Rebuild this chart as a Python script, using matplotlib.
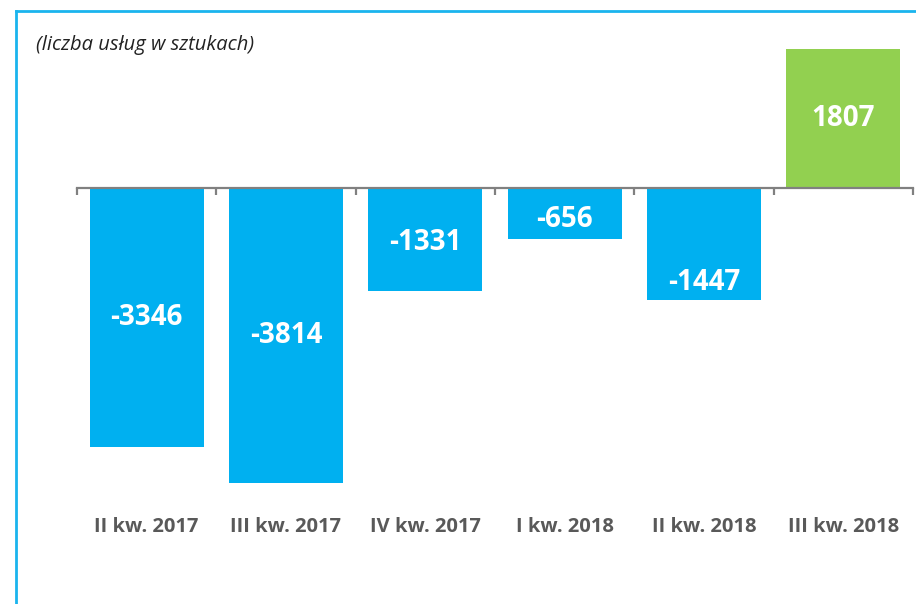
import numpy as np
import matplotlib
matplotlib.use("Agg")
import matplotlib.pyplot as plt
import matplotlib.transforms as mtransforms
from matplotlib.lines import Line2D

plt.rcParams['font.family'] = ['Open Sans', 'DejaVu Sans']

# data
quarters = ['II kw. 2017', 'III kw. 2017', 'IV kw. 2017', 'I kw. 2018', 'II kw. 2018', 'III kw. 2018']
values = [-3346, -3814, -1331, -656, -1447, 1807]
unit_note = '(liczba usług w sztukach)'

blue = '#00b0f0'
green = '#92d050'

W, H = 916, 604
fig = plt.figure(figsize=(W / 100, H / 100), dpi=100)
ax = fig.add_axes([77 / W, 1 - 600 / H, (913 - 77) / W, 588 / H])

x = np.arange(len(quarters))
colors = [green if v > 0 else blue for v in values]
bars = ax.bar(x, values, width=0.82, color=colors, zorder=2)

ax.set_xlim(-0.5, len(quarters) - 0.5)
ax.set_ylim(-5330, 2286)

# value labels, centred; the small bars get a small downward nudge,
# 'II kw. 2018' has its label at the inside end
for q, b, v in zip(quarters, bars, values):
    cx = b.get_x() + b.get_width() / 2
    if q == 'II kw. 2018':
        ax.annotate(str(v), (cx, v), xytext=(0, 18), textcoords='offset pixels',
                    ha='center', va='center', color='white', fontsize=20, fontweight='bold')
    else:
        dy = -6 if abs(v) < 1000 else (-3 if abs(v) < 1500 else 0)
        ax.annotate(str(v), (cx, v / 2), xytext=(0, dy), textcoords='offset pixels',
                    ha='center', va='center', color='white', fontsize=20, fontweight='bold')

# category labels below the plot
trans = mtransforms.blended_transform_factory(ax.transData, ax.transAxes)
for xi, q in zip(x, quarters):
    ax.text(xi, 0.124, q, transform=trans, ha='center', va='center',
            color='#595959', fontsize=14.5, fontweight='bold')

# zero axis with ticks at category boundaries
for s in ['top', 'right', 'left']:
    ax.spines[s].set_visible(False)
ax.spines['bottom'].set_position(('data', 0))
ax.spines['bottom'].set_color('#808080')
ax.spines['bottom'].set_linewidth(1.6)
ax.spines['bottom'].set_zorder(3)
ax.set_xticks(np.arange(len(quarters) + 1) - 0.5)
ax.set_xticklabels([])
ax.tick_params(axis='x', direction='out', length=5, width=1.6, color='#808080')
ax.set_yticks([])

fig.text(36 / W, 1 - 45 / H, unit_note, ha='left', va='center', style='italic',
         fontsize=14.5, color='#222222')

# frame lines
fig.add_artist(Line2D([16 / W, 16 / W], [0, 1 - 11 / H], transform=fig.transFigure,
                      color='#1ab4ee', lw=2))
fig.add_artist(Line2D([16 / W, 1], [1 - 11 / H, 1 - 11 / H], transform=fig.transFigure,
                      color='#1ab4ee', lw=2))

fig.savefig('out.png', dpi=100)
